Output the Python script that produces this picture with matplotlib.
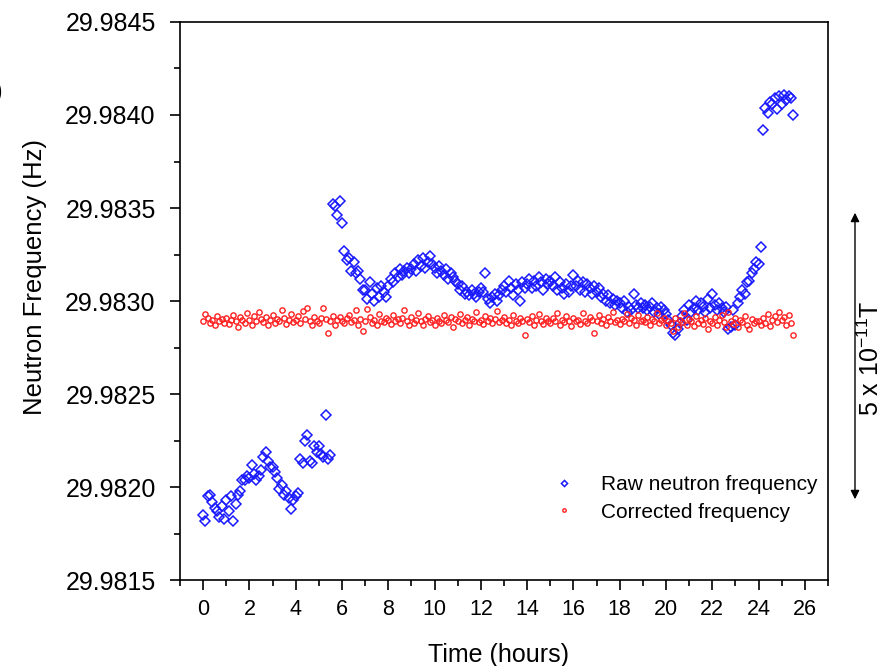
import numpy as np
import matplotlib.pyplot as plt
from matplotlib.ticker import MultipleLocator, FormatStrFormatter

plt.rcParams['font.family'] = ['Liberation Sans', 'DejaVu Sans']

# measurement times (hours), one point every 6 minutes
t = np.arange(0, 25.55, 0.1)

# frequencies stored as micro-Hz above 29.98 Hz, one row per hour
raw_uhz = [
    1850, 1815, 1950, 1960, 1920, 1890, 1870, 1840, 1900, 1830,
    1930, 1870, 1950, 1820, 1910, 1960, 1980, 2040, 2040, 2060,
    2050, 2120, 2070, 2040, 2060, 2090, 2160, 2190, 2140, 2110,
    2110, 2080, 2050, 1990, 2010, 1960, 1980, 1940, 1880, 1930,
    1950, 1970, 2150, 2130, 2250, 2280, 2140, 2130, 2220, 2190,
    2220, 2180, 2160, 2390, 2150, 2170, 3520, 3510, 3460, 3540,
    3420, 3270, 3220, 3230, 3160, 3210, 3150, 3160, 3120, 3060,
    3060, 3010, 3100, 3040, 3000, 3070, 3020, 3080, 3050, 3020,
    3080, 3120, 3100, 3150, 3130, 3170, 3140, 3160, 3180, 3150,
    3170, 3200, 3160, 3220, 3190, 3230, 3180, 3210, 3240, 3200,
    3180, 3150, 3190, 3160, 3140, 3170, 3120, 3150, 3130, 3110,
    3090, 3060, 3080, 3040, 3050, 3030, 3060, 3040, 3020, 3050,
    3070, 3050, 3150, 3010, 2990, 3020, 3040, 3000, 3030, 3060,
    3080, 3050, 3110, 3070, 3030, 3090, 3060, 3000, 3100, 3070,
    3090, 3120, 3070, 3110, 3080, 3130, 3100, 3060, 3120, 3090,
    3110, 3080, 3130, 3060, 3100, 3070, 3040, 3090, 3050, 3080,
    3140, 3080, 3110, 3060, 3100, 3050, 3090, 3070, 3040, 3080,
    3050, 3070, 3020, 3040, 3000, 3030, 2990, 3010, 2980, 3000,
    2990, 2960, 3000, 2940, 2970, 2950, 3040, 2980, 2960, 2990,
    2960, 2980, 2950, 2970, 2990, 2940, 2960, 2930, 2970, 2950,
    2930, 2900, 2870, 2830, 2820, 2850, 2880, 2920, 2950, 2900,
    2980, 2940, 2960, 3000, 2950, 2990, 2970, 2940, 3010, 2960,
    3040, 2980, 2950, 2990, 2960, 2940, 2970, 2850, 2860, 2950,
    2870, 2990, 3020, 3060, 3040, 3100, 3110, 3150, 3170, 3210,
    3200, 3290, 3920, 4040, 4010, 4070, 4060, 4090, 4030, 4100,
    4060, 4110, 4080, 4100, 4090, 4000,
]

corr_uhz = [
    2890, 2930, 2910, 2880, 2900, 2870, 2920, 2895, 2905, 2880,
    2910, 2875, 2900, 2925, 2890, 2860, 2915, 2900, 2880, 2935,
    2900, 2870, 2920, 2890, 2940, 2905, 2885, 2915, 2870, 2900,
    2925, 2880, 2905, 2890, 2950, 2910, 2875, 2900, 2930, 2885,
    2900, 2920, 2880, 2945, 2905, 2960, 2890, 2870, 2915, 2895,
    2880, 2910, 2960, 2905, 2830, 2890, 2920, 2870, 2900, 2915,
    2895, 2880, 2910, 2925, 2885, 2900, 2950, 2870, 2905, 2840,
    2890, 2955, 2915, 2880, 2900, 2870, 2930, 2895, 2885, 2910,
    2900, 2875, 2925, 2890, 2905, 2880, 2910, 2950, 2895, 2870,
    2915, 2880, 2900, 2935, 2890, 2870, 2905, 2920, 2885, 2900,
    2870, 2910, 2895, 2880, 2925, 2900, 2885, 2915, 2860, 2905,
    2890, 2930, 2880, 2900, 2915, 2870, 2905, 2890, 2940, 2885,
    2900, 2875, 2920, 2890, 2910, 2880, 2905, 2945, 2885, 2900,
    2915, 2880, 2900, 2870, 2925, 2895, 2880, 2910, 2890, 2820,
    2905, 2885, 2920, 2870, 2900, 2930, 2890, 2875, 2910, 2895,
    2880, 2910, 2895, 2935, 2870, 2900, 2885, 2920, 2890, 2865,
    2910, 2890, 2900, 2875, 2935, 2895, 2880, 2915, 2900, 2830,
    2890, 2925, 2880, 2905, 2870, 2915, 2895, 2940, 2885, 2900,
    2875, 2905, 2890, 2930, 2880, 2910, 2900, 2870, 2925, 2895,
    2900, 2885, 2915, 2870, 2905, 2890, 2935, 2880, 2900, 2910,
    2870, 2895, 2880, 2840, 2910, 2860, 2900, 2885, 2935, 2870,
    2905, 2890, 2865, 2920, 2880, 2900, 2875, 2910, 2850, 2895,
    2880, 2915, 2870, 2900, 2925, 2885, 2860, 2940, 2895, 2875,
    2910, 2860, 2900, 2885, 2920, 2870, 2850, 2905, 2880, 2890,
    2895, 2870, 2910, 2880, 2930, 2865, 2900, 2920, 2885, 2940,
    2900, 2915, 2870, 2925, 2880, 2820,
]

base = 29.98
raw = base + np.array(raw_uhz) * 1e-6
corr = base + np.array(corr_uhz) * 1e-6

fig = plt.figure(figsize=(8.84, 6.66), dpi=100)
ax = fig.add_axes([0.2036, 0.129, 0.733, 0.838])

ax.plot(t, raw, ls='none', marker='D', ms=4.8, mfc='none', mec='#1a1aff',
        mew=1.1, label='Raw neutron frequency')
ax.plot(t, corr, ls='none', marker='o', ms=3.8, mfc='none', mec='#ff2020',
        mew=1.0, label='Corrected frequency')

ax.set_xlim(-1, 27)
ax.set_ylim(29.9815, 29.9845)
ax.xaxis.set_major_locator(MultipleLocator(2))
ax.xaxis.set_minor_locator(MultipleLocator(1))
ax.yaxis.set_major_locator(MultipleLocator(0.0005))
ax.yaxis.set_minor_locator(MultipleLocator(0.00025))
ax.yaxis.set_major_formatter(FormatStrFormatter('%.4f'))
ax.tick_params(which='both', direction='out', top=False, right=False, width=1.2)
ax.tick_params(which='major', length=7.5)
ax.tick_params(which='minor', length=4)
ax.tick_params(axis='y', labelsize=18, pad=10)
ax.tick_params(axis='x', labelsize=15.5, pad=6)
for s in ax.spines.values():
    s.set_linewidth(1.2)

ax.set_xlabel('Time (hours)', fontsize=18)
ax.set_ylabel('Neutron Frequency (Hz)', fontsize=18.5)
ax.xaxis.set_label_coords(0.491, -0.112)
ax.yaxis.set_label_coords(-0.205, 0.543)

ax.legend(loc='upper left', bbox_to_anchor=(0.544, 0.222), frameon=False,
          fontsize=15, markerscale=0.65, numpoints=1, handlelength=1.2,
          handletextpad=1.2, labelspacing=0.42)

# magnetic field scale bar on the right
fig.add_artist(plt.Annotation('', xy=(855 / 884, 1 - 502 / 666),
                              xytext=(855 / 884, 1 - 210 / 666),
                              xycoords='figure fraction',
                              arrowprops=dict(arrowstyle='<|-|>', color='black',
                                              lw=1, mutation_scale=13)))
fig.text(858 / 884, 1 - 358 / 666, r'5 x 10$^{\mathregular{-11}}$T', rotation=90,
         ha='left', va='center', fontsize=18)
fig.text(3 / 884, 1 - 92 / 666, '(a)', ha='right', va='center', fontsize=18)

fig.savefig('out.png', dpi=100)
